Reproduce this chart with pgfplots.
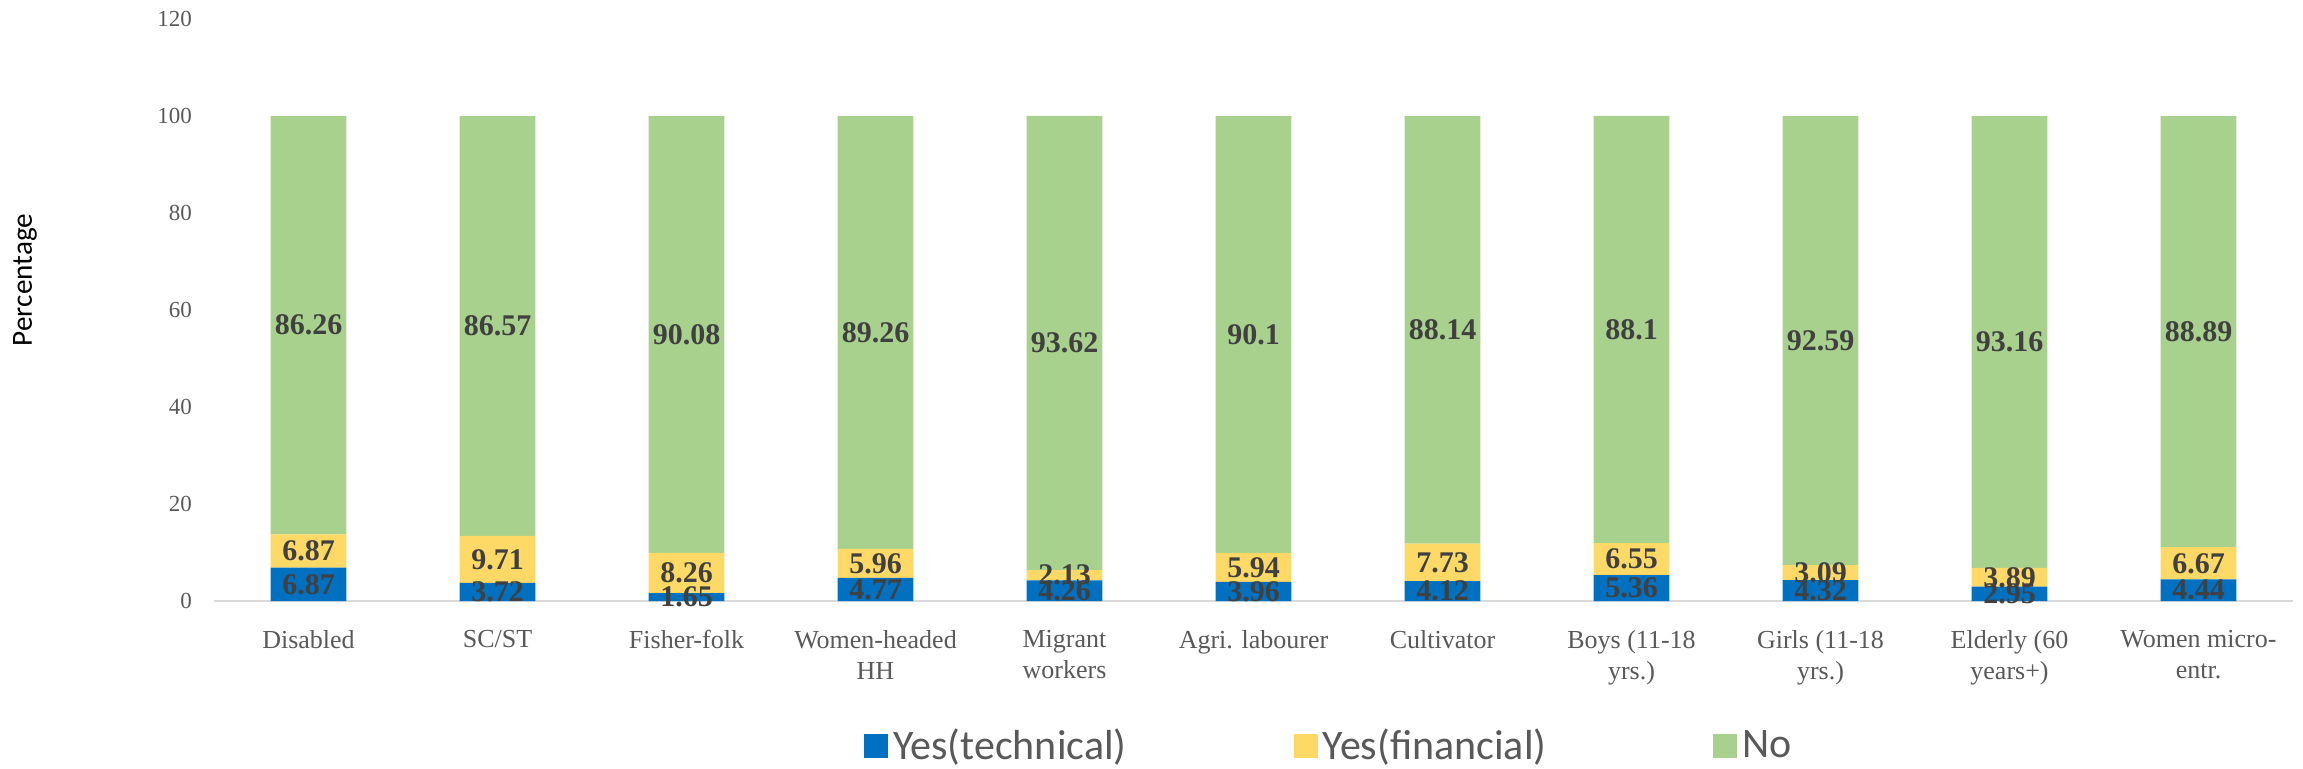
\documentclass[border=0pt]{standalone}
\usepackage{fontspec}
\setmainfont{Liberation Serif}
\newfontfamily\calfont{Carlito}
\usepackage{pgfplots}
\usepackage{pgfplotstable}
\pgfplotsset{compat=1.18}
\definecolor{ctech}{HTML}{0070C0}
\definecolor{cfin}{HTML}{FFD966}
\definecolor{cno}{HTML}{A9D18E}
\definecolor{clab}{HTML}{404040}
\definecolor{ctick}{HTML}{595959}
\definecolor{caxis}{HTML}{D9D9D9}
\pgfplotsset{sqlegend/.style={legend image code/.code={\fill[##1] (0pt,-6pt) rectangle (12pt,6pt);}}}
\pgfplotstableread{
x tech fin no
0 6.87 6.87 86.26
1 3.72 9.71 86.57
2 1.65 8.26 90.08
3 4.77 5.96 89.26
4 4.26 2.13 93.62
5 3.96 5.94 90.1
6 4.12 7.73 88.14
7 5.36 6.55 88.1
8 4.32 3.09 92.59
9 2.95 3.89 93.16
10 4.44 6.67 88.89
}\data
\begin{document}
\begin{tikzpicture}
\useasboundingbox (0,0) rectangle (1151.5pt,384pt);
\begin{axis}[
  at={(107pt,83.5pt)}, anchor=south west,
  scale only axis, width=1039.5pt, height=291pt,
  ybar stacked, bar width=0.4,
  xmin=-0.5, xmax=10.5, ymin=0, ymax=120,
  ytick={0,20,...,120},
  xtick={0,...,10},
  xticklabels={Disabled, SC/ST, Fisher-folk, {Women-headed\\HH}, {Migrant\\workers}, Agri. labourer, Cultivator, {Boys (11-18\\yrs.)}, {Girls (11-18\\yrs.)}, {Elderly (60\\years+)}, {Women micro-\\entr.}},
  axis x line*=bottom, axis y line*=left,
  y axis line style={draw=none},
  x axis line style={draw=caxis, line width=1pt},
  major tick length=0pt,
  /pgf/number format/assume math mode=true,
  xticklabel style={align=center, font=\fontsize{13}{15.5}\selectfont, text=ctick, yshift=-11pt},
  yticklabel style={font=\fontsize{11.5}{12}\selectfont, text=ctick, xshift=-7.5pt},
  nodes near coords,
  every node near coord/.append style={font=\bfseries\fontsize{15}{15}\selectfont, text=clab, anchor=center},
  legend columns=3,
  legend style={at={(0.537,-0.249)}, anchor=center, draw=none, font=\calfont\fontsize{21}{21}\selectfont, text=ctick, nodes={inner sep=2.5pt}, /tikz/every even column/.append style={column sep=81pt}},
]
\addplot[fill=ctech, draw=none, sqlegend] table[x=x,y=tech]{\data};
\addplot[fill=cfin, draw=none, sqlegend] table[x=x,y=fin]{\data};
\addplot[fill=cno, draw=none, sqlegend] table[x=x,y=no]{\data};
\legend{Yes(technical), Yes(financial), No}
\end{axis}
\node[rotate=90, font=\calfont\fontsize{14.6}{15}\selectfont] at (12.5pt,244pt) {Percentage};
\end{tikzpicture}
\end{document}
